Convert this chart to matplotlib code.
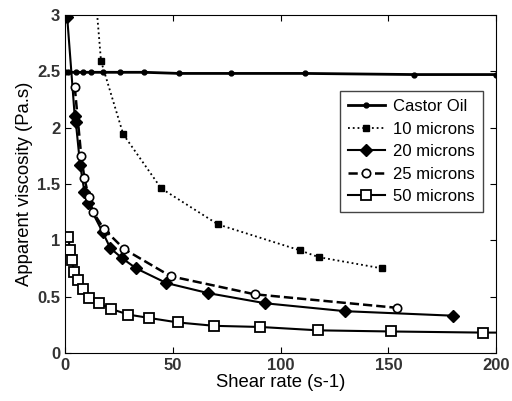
import matplotlib
matplotlib.use('Agg')
import matplotlib.pyplot as plt

# Castor oil
castor_x = [0, 1.2, 5, 8.5, 12, 17.8, 25.6, 36.8, 53, 77, 111.4, 162, 200]
castor_y = [2.49, 2.49, 2.49, 2.49, 2.49, 2.49, 2.49, 2.49, 2.48, 2.48, 2.48, 2.47, 2.47]

# 10 microns
m10_x = [11, 16.7, 27, 44.6, 71, 109, 117.6, 147]
m10_y = [3.9, 2.59, 1.94, 1.46, 1.14, 0.91, 0.85, 0.75]

# 20 microns
m20_x = [1, 4.5, 5, 7, 9, 10.5, 17.5, 21, 26.5, 33, 47, 66.5, 93, 130, 180]
m20_y = [2.98, 2.1, 2.05, 1.67, 1.43, 1.33, 1.07, 0.93, 0.84, 0.75, 0.62, 0.53, 0.44, 0.37, 0.33]

# 25 microns
m25_x = [4.5, 7.5, 9, 11, 13, 18, 27.5, 49, 88, 154]
m25_y = [2.36, 1.75, 1.55, 1.38, 1.25, 1.1, 0.92, 0.68, 0.52, 0.40]

# 50 microns
m50_x = [1.5, 2.3, 3.2, 4.2, 6.1, 8.5, 11.3, 15.8, 21.4, 29.3, 39, 52.4, 69.3, 90.5, 117.5, 151, 194, 200]
m50_y = [1.03, 0.91, 0.82, 0.72, 0.65, 0.57, 0.49, 0.44, 0.39, 0.34, 0.31, 0.27, 0.24, 0.23, 0.20, 0.19, 0.18, 0.18]

plt.rcParams['font.family'] = ['Liberation Sans', 'DejaVu Sans']

fig = plt.figure(figsize=(5.12, 4.01), dpi=100)
ax = fig.add_axes([0.127, 0.12, 0.842, 0.843])

ax.plot(castor_x, castor_y, 'k-', lw=2, marker='o', ms=3.5, label='Castor Oil')
ax.plot(m10_x, m10_y, 'k:', lw=1.3, marker='s', ms=5, label='10 microns')
ax.plot(m20_x, m20_y, 'k-', lw=1.5, marker='D', ms=6, label='20 microns')
ax.plot(m25_x, m25_y, 'k--', lw=1.8, marker='o', ms=6, mfc='white', mew=1.2, label='25 microns')
# 50 micron curve: last point is line only
ax.plot(m50_x, m50_y, 'k-', lw=1.5, marker='s', ms=7, mfc='white', mew=1.3,
        markevery=list(range(len(m50_x) - 1)), label='50 microns')

ax.set_xlim(0, 200)
ax.set_ylim(0, 3)
ax.set_xticks([0, 50, 100, 150, 200])
ax.set_yticks([0, 0.5, 1, 1.5, 2, 2.5, 3])
ax.set_yticklabels(['0', '0.5', '1', '1.5', '2', '2.5', '3'])
ax.tick_params(direction='in', top=True, right=True, length=4, labelsize=12)
for lab in ax.get_xticklabels() + ax.get_yticklabels():
    lab.set_fontweight('bold')
    lab.set_color('#333333')

ax.set_xlabel('Shear rate (s-1)', fontsize=13.3, labelpad=1)
ax.set_ylabel('Apparent viscosity (Pa.s)', fontsize=13.3, labelpad=3)

leg = ax.legend(loc='upper left', bbox_to_anchor=(0.618, 0.80), fontsize=12,
                fancybox=False, framealpha=1, edgecolor='#444444',
                handlelength=2.2, handletextpad=0.5, borderpad=0.5, labelspacing=0.45)
leg.get_frame().set_linewidth(1)

fig.savefig('out.png', dpi=100)
